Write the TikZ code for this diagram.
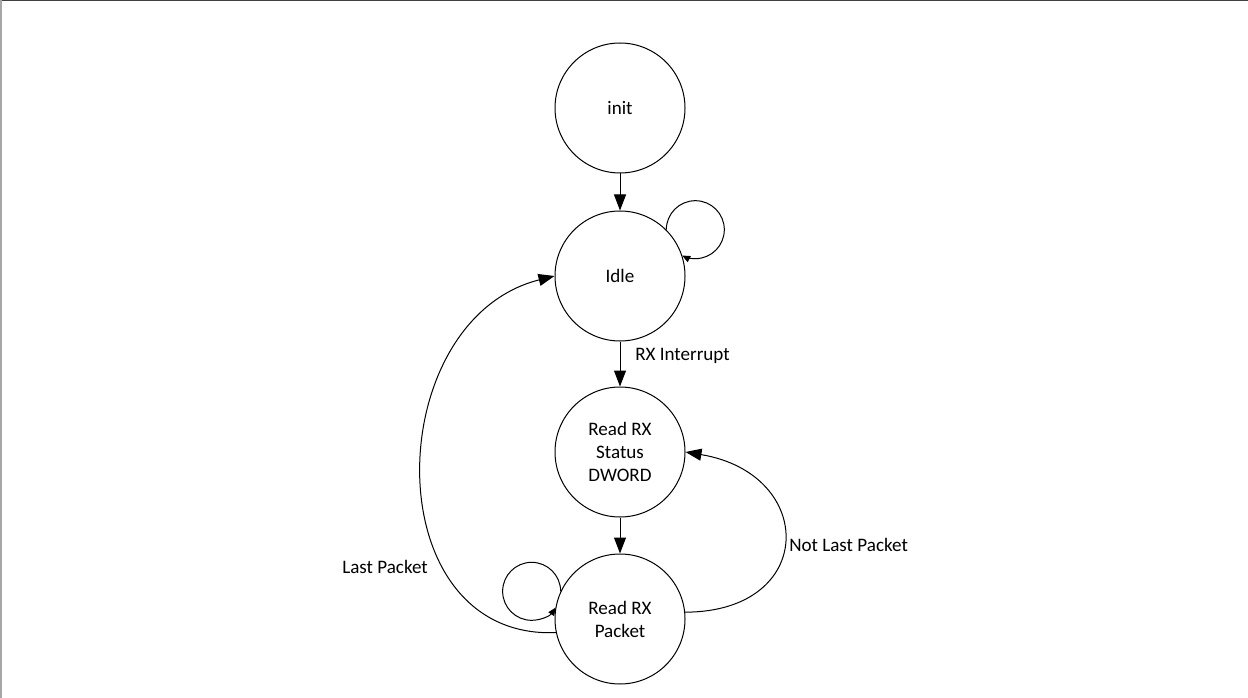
\documentclass[tikz,border=0pt]{standalone}
\usepackage{fontspec}
\setmainfont{Carlito}
\usetikzlibrary{arrows.meta}
\begin{document}
\begin{tikzpicture}[x=0.75pt,y=0.75pt,
  state/.style={circle,draw,line width=0.75pt,minimum size=97.5pt,inner sep=0pt,align=center,font=\fontsize{14.3}{17.25}\selectfont},
  edge/.style={line width=0.75pt,-{Triangle[length=12pt,width=9pt]}},
  loopedge/.style={line width=0.75pt,-{Triangle[length=6pt,width=5pt]}},
  lbl/.style={font=\fontsize{14.3}{17.25}\selectfont,inner sep=0pt}]
\useasboundingbox (0,0) rectangle (1248,-698);
\draw[black!75,line width=1.5pt] (0,-0.5) -- (1248,-0.5);
\draw[black!35,line width=1.5pt] (0.5,0) -- (0.5,-698);
\node[state] (init) at (620,-108) {init};
\node[state] (idle) at (620,-276) {Idle};
\node[state] (stat) at (620,-452) {Read RX\\Status\\DWORD};
\node[state] (pk) at (620,-619) {Read RX\\Packet};
\draw[edge] (init) -- (idle);
\draw[edge] (idle) -- (stat);
\draw[edge] (stat) -- (pk);
\draw[loopedge] (idle.45) arc[start angle=180,end angle=-117,radius=29];
\draw[loopedge] (pk.155) arc[start angle=0,end angle=326,radius=29];
\draw[edge] (pk.6) .. controls (817,-612) and (817,-474) .. (stat.east);
\draw[edge] (pk.192) .. controls (374,-640) and (380,-320) .. (idle.west);
\node[lbl,anchor=west] (l1) at (635,-356) {RX Interrupt};
\node[lbl,anchor=west] (l2) at (789,-545) {Not Last Packet};
\node[lbl,anchor=west] (l3) at (342,-567) {Last Packet};
\end{tikzpicture}
\end{document}
